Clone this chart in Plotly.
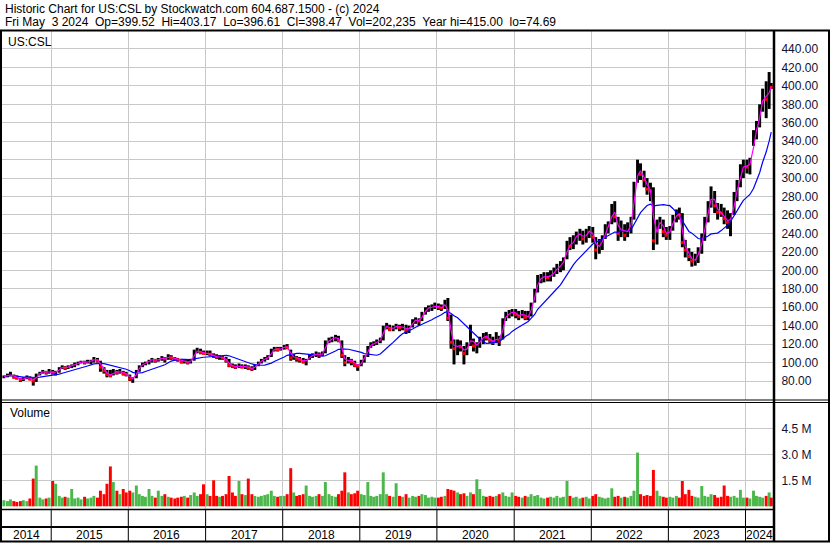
import pandas as pd
import numpy as np
import plotly.graph_objects as go

# ---------------- data (semi-monthly periods, May 15 2014 .. May 3 2024) ----------------
period_start = pd.date_range("2014-05-15", periods=240, freq="SMS")

low = [
    # 2014 (from May 15)
    83, 84, 85, 83, 82, 79, 80, 82, 81, 75, 79, 86, 88, 87, 88,
    # 2015
    87, 86, 89, 93, 92, 93, 94, 95, 97, 99, 98, 99, 98, 100, 100, 90, 88, 84, 84, 86, 87, 88, 86, 85,
    # 2016
    80, 78, 83, 90, 95, 97, 98, 100, 100, 101, 102, 100, 103, 103, 102, 101, 99, 99, 98, 99, 102, 110, 109, 109,
    # 2017
    108, 107, 105, 104, 103, 103, 100, 95, 94, 93, 94, 94, 93, 92, 91, 92, 96, 99, 101, 103, 106, 112, 112, 113,
    # 2018
    114, 115, 102, 103, 101, 100, 99, 97, 103, 105, 106, 105, 107, 110, 121, 122, 123, 122, 105, 96, 99, 97, 95, 91,
    # 2019
    96, 100, 106, 116, 118, 119, 121, 124, 136, 134, 134, 136, 134, 135, 131, 132, 138, 142, 140, 145, 152, 155, 156, 158,
    # 2020
    157, 156, 158, 145, 115, 98, 108, 112, 98, 108, 118, 112, 110, 116, 120, 124, 121, 119, 121, 118, 125, 145, 148, 150,
    # 2021
    148, 146, 148, 146, 146, 150, 165, 176, 186, 187, 188, 188, 193, 196, 198, 200, 212, 222, 223, 228, 232, 228, 230, 235,
    # 2022
    230, 212, 218, 222, 234, 240, 250, 252, 232, 236, 232, 236, 240, 255, 295, 298, 290, 282, 275, 222, 228, 245, 236, 233,
    # 2023
    233, 243, 252, 255, 225, 214, 210, 204, 205, 208, 218, 232, 252, 268, 262, 255, 258, 250, 245, 237, 260, 275, 290, 300,
    # 2024
    305, 304, 335, 342, 355, 372, 365, 375, 396.61,
]

high = [
    86, 88, 90, 87, 86, 83, 84, 86, 85, 83, 88, 90, 92, 91, 93,
    92, 91, 95, 97, 96, 97, 98, 100, 101, 102, 102, 103, 103, 106, 105, 102, 95, 92, 92, 93, 92, 93, 91, 90,
    87, 84, 92, 97, 100, 101, 103, 105, 104, 105, 107, 106, 109, 108, 106, 105, 104, 103, 103, 104, 114, 116, 115, 113,
    113, 113, 110, 109, 108, 107, 106, 104, 99, 98, 99, 98, 98, 97, 96, 98, 101, 104, 106, 108, 115, 117, 117, 117,
    119, 120, 114, 109, 107, 106, 105, 104, 109, 110, 112, 111, 112, 124, 127, 128, 130, 129, 124, 108, 106, 104, 102, 98,
    103, 108, 118, 122, 123, 125, 127, 140, 143, 141, 140, 142, 141, 142, 141, 140, 147, 149, 148, 155, 160, 162, 163, 165,
    164, 163, 168, 170, 152, 125, 125, 124, 118, 122, 141, 126, 122, 128, 132, 133, 131, 128, 133, 129, 148, 155, 157, 158,
    158, 156, 157, 156, 156, 165, 180, 195, 196, 198, 198, 200, 203, 207, 210, 214, 232, 236, 238, 242, 245, 243, 245, 248,
    247, 236, 234, 238, 250, 253, 272, 275, 258, 254, 250, 252, 258, 296, 320, 316, 308, 300, 295, 290, 255, 258, 255, 247,
    248, 260, 266, 268, 262, 233, 224, 220, 218, 225, 240, 258, 275, 291, 286, 273, 272, 268, 265, 262, 285, 298, 315, 320,
    320, 322, 352, 362, 380, 397, 405, 415, 403.17,
]

close = [
    85, 86, 87, 84, 83, 81, 83, 84, 82, 80, 87, 89, 91, 89, 91,
    89, 90, 94, 95, 94, 96, 97, 98, 100, 101, 100, 101, 102, 104, 102, 95, 91, 87, 86, 91, 89, 91, 88, 87,
    82, 83, 91, 96, 99, 100, 102, 104, 102, 104, 105, 104, 107, 105, 104, 103, 101, 101, 100, 102, 112, 113, 111, 110,
    110, 109, 107, 106, 106, 105, 102, 97, 96, 95, 97, 95, 96, 94, 93, 97, 100, 103, 104, 106, 113, 115, 114, 115,
    118, 116, 105, 107, 104, 103, 101, 103, 107, 108, 110, 108, 110, 122, 125, 126, 128, 124, 108, 100, 104, 101, 97, 96,
    102, 106, 117, 120, 121, 123, 125, 138, 140, 136, 138, 140, 138, 139, 135, 138, 146, 146, 145, 153, 158, 160, 160, 162,
    160, 159, 166, 148, 122, 115, 120, 117, 110, 119, 128, 118, 120, 124, 130, 127, 124, 122, 128, 123, 146, 152, 153, 156,
    152, 150, 154, 149, 150, 163, 178, 190, 192, 194, 192, 196, 198, 204, 205, 212, 228, 226, 234, 239, 240, 234, 241, 244,
    236, 222, 230, 232, 245, 248, 268, 258, 240, 248, 238, 246, 252, 292, 312, 304, 298, 288, 286, 232, 250, 254, 242, 238,
    245, 256, 262, 260, 230, 222, 215, 210, 212, 222, 235, 252, 270, 284, 270, 263, 262, 256, 252, 258, 280, 292, 310, 314,
    312, 318, 348, 355, 375, 392, 385, 400, 398.47,
]

volume_m = [
    0.35, 0.30, 0.40, 0.30, 0.25, 0.30, 0.35, 0.30, 0.45, 1.60, 2.35, 0.50, 0.40, 0.45, 0.50,
    1.46, 1.30, 0.60, 0.50, 0.55, 0.50, 1.00, 0.45, 0.50, 0.40, 0.55, 0.45, 0.50, 0.60, 0.50, 0.90, 0.70, 1.30, 2.30, 1.40, 0.90, 0.70, 1.00, 0.80,
    0.90, 0.80, 1.20, 0.70, 0.60, 0.55, 1.00, 0.60, 0.50, 0.90, 0.60, 0.70, 0.55, 0.50, 0.45, 0.50, 0.55, 0.60, 0.50, 0.65, 0.80, 0.60, 0.70, 1.27,
    0.70, 0.60, 1.50, 0.60, 0.55, 0.60, 0.70, 1.75, 0.80, 0.60, 1.46, 0.70, 0.65, 1.60, 0.70, 0.60, 0.55, 0.60, 0.65, 0.70, 0.90, 0.60, 0.55, 0.60,
    0.60, 0.70, 2.20, 0.80, 0.60, 0.65, 0.70, 1.20, 0.60, 0.55, 0.60, 0.70, 0.60, 1.40, 0.70, 0.60, 0.55, 0.70, 0.90, 1.96, 0.80, 0.70, 0.75, 0.90,
    0.70, 0.65, 1.40, 0.60, 0.55, 0.60, 0.70, 1.96, 0.70, 0.60, 0.55, 1.33, 0.60, 0.55, 0.70, 0.50, 0.60, 0.55, 0.60, 0.70, 0.65, 0.50, 0.55, 0.50,
    0.50, 0.55, 0.60, 1.00, 0.95, 0.90, 0.80, 0.70, 0.75, 0.60, 0.80, 0.70, 1.56, 1.00, 0.60, 0.55, 0.60, 0.55, 0.60, 0.70, 0.80, 0.60, 0.55, 0.80,
    0.60, 0.55, 0.50, 0.60, 0.55, 0.70, 0.60, 0.65, 0.50, 0.45, 0.50, 0.55, 0.50, 0.60, 0.50, 0.55, 1.46, 0.60, 0.50, 0.55, 0.45, 0.50, 0.55, 0.45,
    0.60, 0.70, 0.55, 0.50, 0.45, 0.50, 1.04, 0.55, 0.60, 0.50, 0.55, 0.50, 0.60, 0.90, 3.10, 0.70, 0.60, 0.65, 0.60, 2.10, 0.90, 0.60, 0.55, 0.50,
    0.55, 0.50, 0.60, 0.50, 1.46, 0.70, 0.95, 0.60, 0.55, 0.50, 1.17, 0.60, 0.55, 0.70, 0.65, 0.50, 0.55, 1.20, 0.60, 0.55, 0.60, 0.50, 0.95, 0.50,
    0.50, 0.45, 0.90, 0.60, 0.55, 0.50, 0.60, 0.80, 0.50,
]

price_ticks = list(range(80, 441, 20))
vol_ticks = [1.5e6, 3.0e6, 4.5e6]
vol_tick_text = ["1.5 M", "3.0 M", "4.5 M"]
years = list(range(2014, 2025))

header1 = "Historic Chart for US:CSL by Stockwatch.com 604.687.1500 - (c) 2024"
header2 = "Fri May  3 2024  Op=399.52  Hi=403.17  Lo=396.61  Cl=398.47  Vol=202,235  Year hi=415.00  lo=74.69"
symbol_label = "US:CSL"

# ---------------- derived ----------------
W, H = 830, 543
def py(px):
    return 1 - px / H

x_start = pd.Timestamp("2014-05-13")
x_end = pd.Timestamp("2024-05-15")

centers = period_start + pd.Timedelta(days=7)
centers = centers.where(centers <= pd.Timestamp("2024-05-02"), pd.Timestamp("2024-05-02"))

c = pd.Series(close, dtype=float)
hi = np.array(high, dtype=float)
lo = np.array(low, dtype=float)
ma_short = c.rolling(2, min_periods=1).mean()
ma_long = c.rolling(12, min_periods=1).mean()
down = (c.diff().fillna(0) < 0).values
vol_colors = np.where(down, "#ff0000", "#4cb84c")

day_ms = 86400000

fig = go.Figure()
fig.add_trace(go.Bar(x=centers, y=hi - lo, base=lo, width=14 * day_ms,
                     marker=dict(color="#000000", line=dict(width=0)),
                     xaxis="x", yaxis="y", hoverinfo="skip"))
fig.add_trace(go.Scatter(x=centers[down], y=c[down], mode="markers",
                         marker=dict(symbol="square", size=3, color="#ff0000"),
                         xaxis="x", yaxis="y", hoverinfo="skip"))
fig.add_trace(go.Scatter(x=centers, y=ma_long, mode="lines",
                         line=dict(color="#0000ff", width=1.2), xaxis="x", yaxis="y"))
fig.add_trace(go.Scatter(x=centers, y=ma_short, mode="lines",
                         line=dict(color="#ff00ff", width=1.2), xaxis="x", yaxis="y"))
fig.add_trace(go.Bar(x=centers, y=np.array(volume_m) * 1e6, width=14 * day_ms,
                     marker=dict(color=vol_colors, line=dict(width=0)),
                     xaxis="x2", yaxis="y2", hoverinfo="skip"))

jan1 = [pd.Timestamp(f"{y}-01-01") for y in years if pd.Timestamp(f"{y}-01-01") > x_start]
grid = "#c8c8c8"
font = "Liberation Sans, Arial, sans-serif"
xdom = [2 / W, 774 / W]

common_x = dict(type="date", range=[x_start, x_end], domain=xdom, tickvals=jan1,
                showticklabels=False, showgrid=True, gridcolor=grid, gridwidth=1,
                ticks="", zeroline=False, showline=False)

fig.update_layout(
    width=W, height=H, autosize=False,
    margin=dict(l=0, r=0, t=0, b=0, pad=0),
    paper_bgcolor="white", plot_bgcolor="white",
    showlegend=False, barmode="overlay",
    font=dict(family=font, size=12, color="#000000"),
    xaxis=dict(anchor="y", **common_x),
    xaxis2=dict(anchor="y2", matches="x", **common_x),
    yaxis=dict(domain=[py(400), py(31)], range=[59.4, 459.5], side="right",
               anchor="x", tickvals=price_ticks, ticktext=[f"{v:.2f}" for v in price_ticks],
               showgrid=True, gridcolor=grid, gridwidth=1, zeroline=False,
               ticks="outside", ticklen=4, tickcolor="rgba(0,0,0,0)",
               tickfont=dict(family=font, size=12, color="#111133")),
    yaxis2=dict(domain=[py(509), py(402)], range=[-0.156e6, 6.02e6], side="right",
                anchor="x2", tickvals=vol_ticks, ticktext=vol_tick_text,
                showgrid=True, gridcolor=grid, gridwidth=1, zeroline=False,
                ticks="outside", ticklen=4, tickcolor="rgba(0,0,0,0)",
                tickfont=dict(family=font, size=12, color="#111133")),
)

shapes = []
def hline(ypx, x0px, x1px, w):
    shapes.append(dict(type="line", xref="paper", yref="paper", x0=x0px / W, x1=x1px / W,
                       y0=py(ypx), y1=py(ypx), line=dict(color="black", width=w), layer="above"))
def vline(xpx, y0px, y1px, w):
    shapes.append(dict(type="line", xref="paper", yref="paper", x0=xpx / W, x1=xpx / W,
                       y0=py(y0px), y1=py(y1px), line=dict(color="black", width=w), layer="above"))

hline(30.5, 0, W, 2)
hline(400, 0, W, 1)
hline(402.5, 0, W, 1)
hline(509.5, 0, 774, 1.5)
hline(527, 0, 774, 2)
hline(541.5, 0, W, 2)
vline(1, 30, 542, 2)
vline(774, 30, 542, 2.5)
vline(829, 30, 542, 2)
for d in jan1:
    shapes.append(dict(type="line", xref="x", yref="paper", x0=d, x1=d,
                       y0=py(541), y1=py(509.5), line=dict(color="black", width=1), layer="above"))
fig.update_layout(shapes=shapes)

ann = []
ann.append(dict(text=header1, xref="paper", yref="paper", x=3 / W, y=py(8.5),
                xanchor="left", yanchor="middle", showarrow=False,
                font=dict(family=font, size=12, color="black")))
ann.append(dict(text=header2.replace("  ", "\u00a0\u00a0"), xref="paper", yref="paper",
                x=3 / W, y=py(22), xanchor="left", yanchor="middle", showarrow=False,
                font=dict(family=font, size=12, color="black")))
ann.append(dict(text=symbol_label, xref="paper", yref="paper", x=6 / W, y=py(42),
                xanchor="left", yanchor="middle", showarrow=False,
                font=dict(family=font, size=12, color="black")))
ann.append(dict(text="Volume", xref="paper", yref="paper", x=8 / W, y=py(413),
                xanchor="left", yanchor="middle", showarrow=False,
                font=dict(family=font, size=12, color="black")))
for y in years:
    s = max(x_start, pd.Timestamp(f"{y}-01-01"))
    e = min(x_end, pd.Timestamp(f"{y + 1}-01-01"))
    mid = s + (e - s) / 2
    ann.append(dict(text=str(y), xref="x", yref="paper", x=mid.strftime("%Y-%m-%d"), y=py(534.5),
                    xanchor="center", yanchor="middle", showarrow=False,
                    font=dict(family=font, size=12, color="black")))
fig.update_layout(annotations=ann)

fig.write_html("out.html", config={"displayModeBar": False},
               post_script="document.body.style.margin='0';document.body.style.overflow='hidden';")
